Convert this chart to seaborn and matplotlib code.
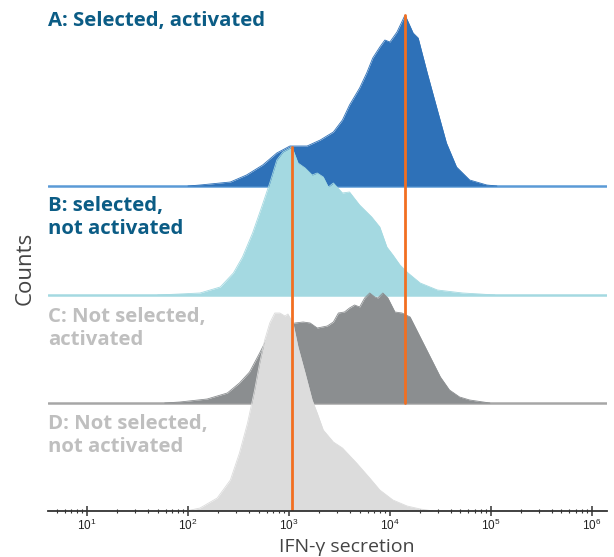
import numpy as np
import pandas as pd
import matplotlib
matplotlib.use('Agg')
import matplotlib.pyplot as plt
import seaborn as sns

# Histogram outlines: log10(IFN-gamma) positions and counts
a_log = [2.00, 2.12, 2.42, 2.58, 2.74, 2.88, 3.01, 3.18, 3.31, 3.44, 3.53, 3.60, 3.70,
         3.77, 3.83, 3.90, 3.95, 4.00, 4.07, 4.15, 4.23, 4.28, 4.37, 4.47, 4.56, 4.66,
         4.79, 4.96, 5.06]
a_cnt = [0, 1, 4, 11, 21, 33, 40, 40, 46, 54, 66, 81, 98,
         113, 128, 139, 146, 144, 154, 171, 153, 148, 113, 76, 43, 19,
         6, 1, 0]

b_log = [1.70, 1.92, 2.12, 2.32, 2.45, 2.54, 2.64, 2.73, 2.81, 2.88, 2.94, 3.03, 3.09,
         3.16, 3.23, 3.28, 3.34, 3.39, 3.44, 3.53, 3.60, 3.70, 3.82, 3.90, 3.97, 4.03,
         4.10, 4.18, 4.30, 4.47, 4.72, 4.89, 5.04]
b_cnt = [0, 1, 2, 8, 22, 38, 62, 88, 112, 135, 143, 148, 132,
         127, 120, 122, 118, 108, 112, 102, 103, 90, 78, 68, 48, 40,
         30, 22, 12, 5, 2, 1, 0]

c_log = [1.77, 1.92, 2.19, 2.39, 2.51, 2.61, 2.71, 2.79, 2.93, 3.06, 3.14, 3.21, 3.28,
         3.38, 3.44, 3.49, 3.55, 3.60, 3.65, 3.70, 3.75, 3.80, 3.85, 3.88, 3.93, 3.98,
         4.05, 4.12, 4.20, 4.30, 4.40, 4.50, 4.59, 4.69, 4.79, 4.99]
c_cnt = [0, 1, 4, 10, 20, 31, 50, 66, 76, 80, 81, 80, 75,
         77, 81, 90, 91, 95, 98, 96, 105, 110, 106, 105, 110, 105,
         91, 90, 86, 66, 46, 26, 13, 6, 3, 0]

d_log = [1.98, 2.12, 2.29, 2.42, 2.51, 2.59, 2.66, 2.71, 2.76, 2.81, 2.86, 2.91, 2.96,
         2.99, 3.04, 3.09, 3.16, 3.23, 3.28, 3.34, 3.44, 3.53, 3.67, 3.80, 3.90, 4.03,
         4.17, 4.30, 4.43]
d_cnt = [0, 3, 13, 31, 58, 88, 121, 148, 171, 188, 198, 198, 195,
         197, 188, 164, 138, 111, 98, 81, 69, 63, 48, 33, 21, 11,
         5, 2, 0]

groups = ['A', 'B', 'C', 'D']
labels = ['A: Selected, activated', 'B: selected,\nnot activated',
          'C: Not selected,\nactivated', 'D: Not selected,\nnot activated']

rows = []
for g, lx, cnt in zip(groups, [a_log, b_log, c_log, d_log], [a_cnt, b_cnt, c_cnt, d_cnt]):
    for v, c in zip(lx, cnt):
        rows.append({'group': g, 'ifn': 10 ** v, 'count': c})
df = pd.DataFrame(rows)

# styling
fill_col = {'A': '#2e71b8', 'B': '#a4d9e1', 'C': '#8b8e90', 'D': '#dcdcdc'}
base_col = {'A': '#5b9ad6', 'B': '#a4d9e1', 'C': '#a6a6a6', 'D': '#333333'}
label_col = {'A': '#0b5c85', 'B': '#0b5c85', 'C': '#bfbfbf', 'D': '#bfbfbf'}
offset = {'A': 325, 'B': 216, 'C': 108, 'D': 0}
label_y = {'A': 11, 'B': 196, 'C': 307, 'D': 414}
orange = '#f26f21'

sns.set_theme(style='white')
plt.rcParams['font.family'] = ['Open Sans', 'DejaVu Sans']

fig = plt.figure(figsize=(6.14, 5.57), dpi=100)
ax = fig.add_axes([48 / 614, 46 / 557, 559 / 614, 511 / 557])
ax.set_xscale('log')
xmin, xmax = 10 ** 0.614, 10 ** 6.15
ax.set_xlim(xmin, xmax)
ax.set_ylim(0, 511)

for i, (g, text) in enumerate(zip(groups, labels)):
    sub = df[df['group'] == g]
    y0 = offset[g]
    ax.fill_between(sub['ifn'], y0, y0 + sub['count'], color=fill_col[g],
                    lw=0, zorder=1 + i)
    sns.lineplot(x=sub['ifn'], y=y0 + sub['count'], ax=ax, color=fill_col[g],
                 lw=0.6, zorder=1 + i, estimator=None, sort=False)
    if g != 'D':
        ax.plot([xmin, xmax], [y0, y0], color=base_col[g], lw=1.8, zorder=1 + i - 0.01)
    fig.text(48 / 614, 1 - label_y[g] / 557, text, color=label_col[g],
             fontsize=14.7, fontweight='bold', va='top', ha='left', linespacing=1.18)

# orange marker lines at the peaks of B and A
b_sub = df[df['group'] == 'B']
a_sub = df[df['group'] == 'A']
xb = b_sub.loc[b_sub['count'].idxmax(), 'ifn']
xa = a_sub.loc[a_sub['count'].idxmax(), 'ifn']
ax.plot([xb, xb], [0, offset['B'] + b_sub['count'].max()], color=orange, lw=2, zorder=10)
ax.plot([xa, xa], [offset['C'], offset['A'] + a_sub['count'].max()], color=orange, lw=2, zorder=10)

for s in ['top', 'right', 'left']:
    ax.spines[s].set_visible(False)
ax.spines['bottom'].set_color('#333333')
ax.spines['bottom'].set_linewidth(1.3)
ax.spines['bottom'].set_zorder(12)
ax.set_yticks([])
ax.set_ylabel('')
ax.set_xticks([10 ** k for k in range(1, 7)])
ax.tick_params(axis='x', which='major', direction='inout', length=6.5, width=1.1,
               color='#333333', labelsize=8.5, pad=2, bottom=True, labelcolor='#222222')
ax.tick_params(axis='x', which='minor', direction='inout', length=3.5, width=0.8,
               color='#333333', bottom=True)
for t in ax.get_xticklabels():
    t.set_family('Liberation Sans')

ax.set_xlabel('IFN-γ secretion', fontsize=14, color='#444444')
ax.xaxis.set_label_coords((347 - 48) / 559, -36 / 511)
ax.xaxis.label.set_va('center')
fig.text(25 / 614, 1 - 268 / 557, 'Counts', rotation=90, fontsize=16,
         color='#444444', ha='center', va='center')

fig.savefig('out.png', dpi=100)
